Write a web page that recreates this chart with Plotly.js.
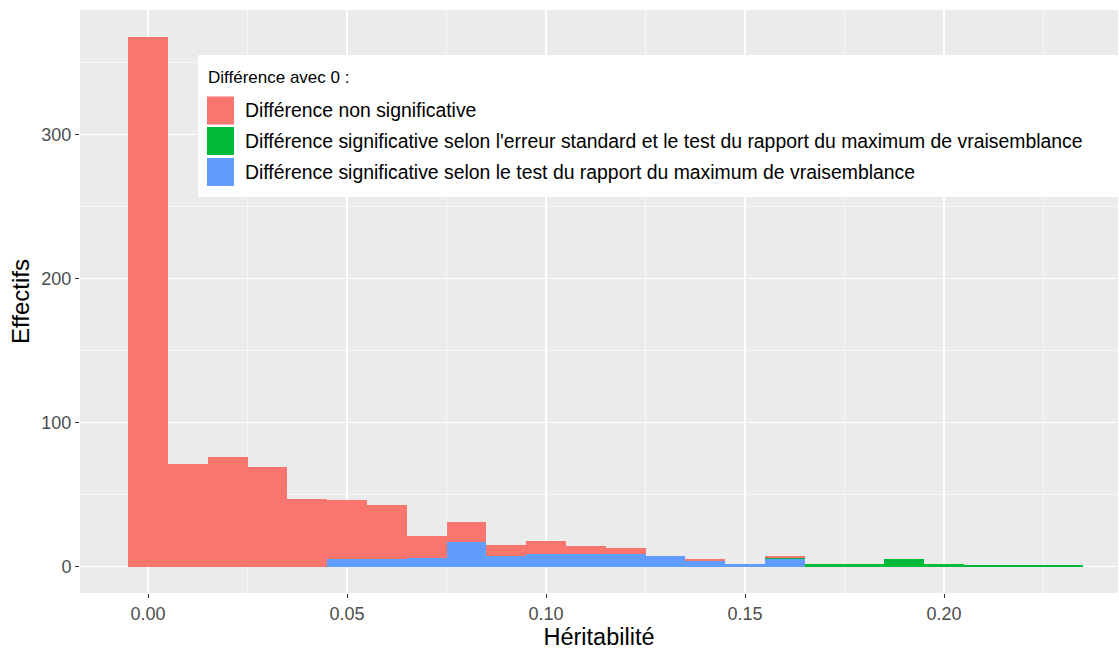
<!DOCTYPE html>
<html>
<head>
<meta charset="utf-8">
<script src="https://cdn.plot.ly/plotly-3.0.1.min.js"></script>
<style>
  html, body { margin: 0; padding: 0; background: #ffffff; }
  #chart { width: 1119px; height: 652px; }
</style>
</head>
<body>
<div id="chart"></div>
<script>
// ---- data ----
const binCenters = [0.00, 0.01, 0.02, 0.03, 0.04, 0.05, 0.06, 0.07, 0.08, 0.09, 0.10, 0.11,
                    0.12, 0.13, 0.14, 0.15, 0.16, 0.17, 0.18, 0.19, 0.20, 0.21, 0.22, 0.23];
// Différence non significative
const nonSignificative = [368, 71, 76, 69, 47, 41, 38, 15, 14, 8, 9, 5,
                          4, 0, 1, 0, 1, 0, 0, 0, 0, 0, 0, 0];
// Différence significative selon l'erreur standard et le test du rapport du maximum de vraisemblance
const sigErreurEtRapport = [0, 0, 0, 0, 0, 0, 0, 0, 0, 0, 0, 0,
                            0, 0, 0, 0, 1, 2, 2, 5, 2, 1, 1, 1];
// Différence significative selon le test du rapport du maximum de vraisemblance
const sigRapport = [0, 0, 0, 0, 0, 5, 5, 6, 17, 7, 9, 9,
                    9, 7, 4, 2, 5, 0, 0, 0, 0, 0, 0, 0];

const seriesNames = [
  "Différence non significative",
  "Différence significative selon l'erreur standard et le test du rapport du maximum de vraisemblance",
  "Différence significative selon le test du rapport du maximum de vraisemblance"
];
const seriesColors = ["#F8766D", "#00BA38", "#619CFF"];
const legendTitle = "Différence avec 0 :";
const xTickVals = [0, 0.05, 0.10, 0.15, 0.20];
const xTickText = ["0.00", "0.05", "0.10", "0.15", "0.20"];
const yTickVals = [0, 100, 200, 300];
const yTickText = ["0", "100", "200", "300"];

// ---- layout geometry ----
const W = 1119, H = 652;
const M = {l: 80, r: 1, t: 10, b: 59};
const pw = W - M.l - M.r, ph = H - M.t - M.b;
const px2x = px => (px - M.l) / pw;
const py2y = py => (H - M.b - py) / ph;
const FONT = "Liberation Sans, Arial, sans-serif";

function bar(vals, i) {
  return {
    type: "bar", x: binCenters, y: vals, width: 0.01,
    name: seriesNames[i], marker: {color: seriesColors[i], line: {width: 0}},
    showlegend: false, hoverinfo: "x+y+name"
  };
}
// stack: blue bottom, green middle, red on top
const data = [bar(sigRapport, 2), bar(sigErreurEtRapport, 1), bar(nonSignificative, 0)];

// custom legend (ggplot-style)
const shapes = [{
  type: "rect", xref: "paper", yref: "paper",
  x0: px2x(198), x1: px2x(1118), y0: py2y(197), y1: py2y(55),
  fillcolor: "#ffffff", line: {width: 0}, layer: "above"
}];
const annotations = [{
  xref: "paper", yref: "paper", x: px2x(206), y: py2y(77.5),
  xanchor: "left", yanchor: "middle", showarrow: false,
  text: legendTitle, font: {family: FONT, size: 17, color: "#000000"}
}];
const rowCenters = [110.5, 141, 172];
for (let i = 0; i < 3; i++) {
  shapes.push({
    type: "rect", xref: "paper", yref: "paper",
    x0: px2x(207), x1: px2x(234), y0: py2y(rowCenters[i] + 14), y1: py2y(rowCenters[i] - 14),
    fillcolor: seriesColors[i], line: {width: 0}, layer: "above"
  });
  annotations.push({
    xref: "paper", yref: "paper", x: px2x(243), y: py2y(rowCenters[i]),
    xanchor: "left", yanchor: "middle", showarrow: false,
    text: seriesNames[i], font: {family: FONT, size: 19.4, color: "#000000"}
  });
}

const layout = {
  width: W, height: H,
  margin: M,
  paper_bgcolor: "#ffffff", plot_bgcolor: "#EBEBEB",
  barmode: "stack", bargap: 0,
  showlegend: false,
  font: {family: FONT},
  xaxis: {
    range: [-0.0171, 0.2437],
    tickvals: xTickVals, ticktext: xTickText,
    ticks: "outside", ticklen: 4, tickwidth: 1.1, tickcolor: "#333333",
    tickfont: {family: FONT, size: 18, color: "#4D4D4D"},
    showgrid: true, gridcolor: "#ffffff", gridwidth: 1.2,
    minor: {tickvals: [0.025, 0.075, 0.125, 0.175, 0.225], showgrid: true, gridcolor: "#ffffff", gridwidth: 0.6, ticks: ""},
    zeroline: false, showline: false,
    title: {text: "Héritabilité", font: {family: FONT, size: 23.5, color: "#000000"}, standoff: 5},
    automargin: false
  },
  yaxis: {
    range: [-18.4, 386.4],
    tickvals: yTickVals, ticktext: yTickText,
    ticks: "outside", ticklen: 4, tickwidth: 1.1, tickcolor: "#333333",
    tickfont: {family: FONT, size: 18, color: "#4D4D4D"},
    showgrid: true, gridcolor: "#ffffff", gridwidth: 1.2,
    minor: {tickvals: [50, 150, 250, 350], showgrid: true, gridcolor: "#ffffff", gridwidth: 0.6, ticks: ""},
    zeroline: false, showline: false,
    title: {text: "Effectifs", font: {family: FONT, size: 24, color: "#000000"}, standoff: 4},
    automargin: false
  },
  shapes: shapes,
  annotations: annotations
};

Plotly.newPlot("chart", data, layout, {displayModeBar: false, staticPlot: true});
</script>
</body>
</html>
